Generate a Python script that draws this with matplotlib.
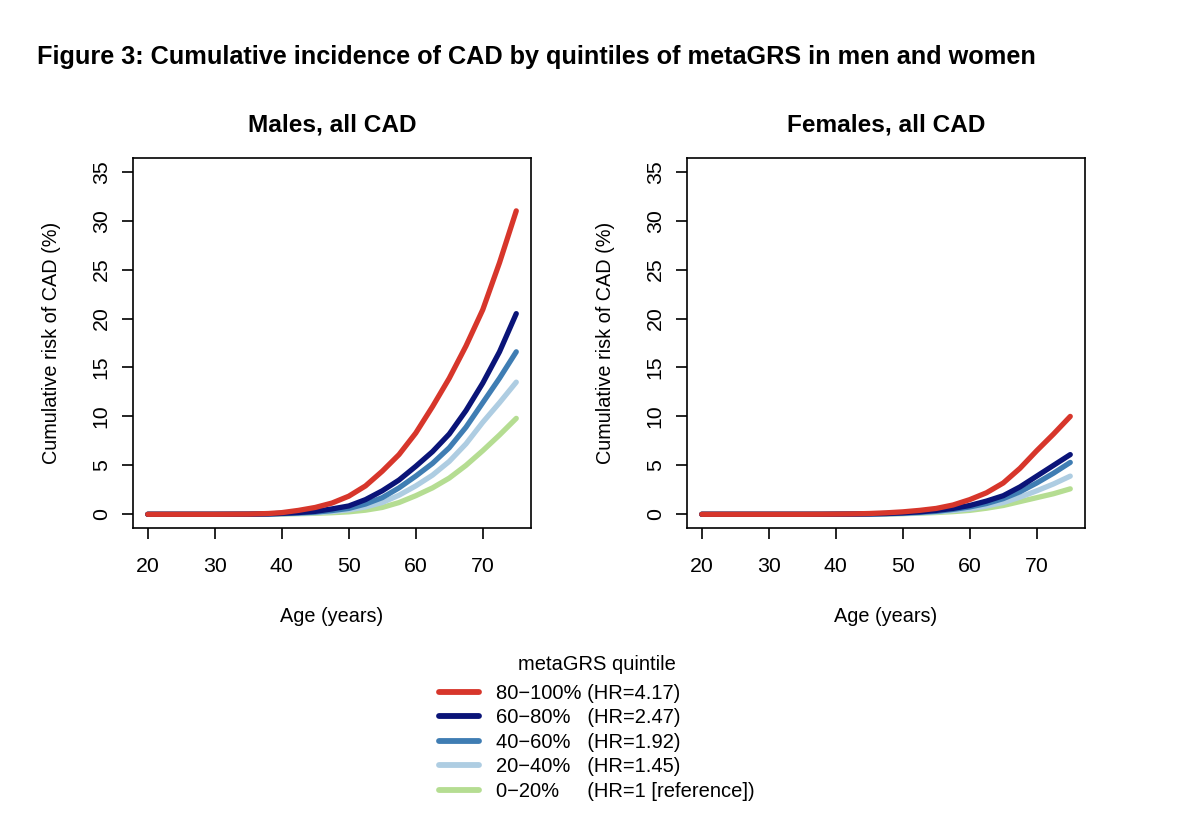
import matplotlib
matplotlib.use("Agg")
import matplotlib.pyplot as plt
from matplotlib.lines import Line2D

plt.rcParams['font.family'] = ['Liberation Sans', 'DejaVu Sans']

ages = [20, 30, 35, 38, 40, 42.5, 45, 47.5, 50, 52.5, 55, 57.5, 60, 62.5, 65, 67.5, 70, 72.5, 75]

# cumulative risk (%) by quintile, males
m_q5 = [0, 0, 0.02, 0.08, 0.17, 0.4, 0.7, 1.15, 1.85, 2.9, 4.4, 6.1, 8.3, 11.0, 13.9, 17.2, 20.9, 25.7, 31.0]
m_q4 = [0, 0, 0.01, 0.04, 0.1, 0.18, 0.3, 0.55, 0.85, 1.5, 2.4, 3.5, 4.9, 6.4, 8.2, 10.6, 13.4, 16.6, 20.5]
m_q3 = [0, 0, 0.01, 0.03, 0.07, 0.13, 0.22, 0.38, 0.6, 1.05, 1.7, 2.7, 3.9, 5.2, 6.8, 8.9, 11.4, 13.9, 16.6]
m_q2 = [0, 0, 0.0, 0.02, 0.05, 0.1, 0.16, 0.28, 0.45, 0.75, 1.2, 1.95, 2.9, 4.0, 5.4, 7.2, 9.4, 11.4, 13.5]
m_q1 = [0, 0, 0.0, 0.01, 0.03, 0.06, 0.1, 0.16, 0.25, 0.42, 0.7, 1.2, 1.9, 2.7, 3.7, 5.0, 6.5, 8.1, 9.8]

# cumulative risk (%) by quintile, females
f_q5 = [0, 0, 0.0, 0.01, 0.02, 0.04, 0.08, 0.15, 0.25, 0.4, 0.6, 0.95, 1.5, 2.2, 3.2, 4.7, 6.5, 8.2, 10.0]
f_q4 = [0, 0, 0.0, 0.0, 0.01, 0.02, 0.04, 0.08, 0.15, 0.25, 0.4, 0.6, 0.9, 1.35, 1.9, 2.8, 3.9, 5.0, 6.1]
f_q3 = [0, 0, 0.0, 0.0, 0.01, 0.02, 0.03, 0.06, 0.11, 0.19, 0.3, 0.5, 0.75, 1.1, 1.6, 2.3, 3.2, 4.2, 5.3]
f_q2 = [0, 0, 0.0, 0.0, 0.0, 0.01, 0.02, 0.04, 0.08, 0.15, 0.25, 0.38, 0.55, 0.85, 1.2, 1.75, 2.4, 3.1, 3.9]
f_q1 = [0, 0, 0.0, 0.0, 0.0, 0.01, 0.02, 0.03, 0.06, 0.11, 0.18, 0.27, 0.4, 0.62, 0.9, 1.3, 1.7, 2.1, 2.6]

quintiles = ["80\u2212100%", "60\u221280%", "40\u221260%", "20\u221240%", "0\u221220%"]
hr_labels = ["(HR=4.17)", "(HR=2.47)", "(HR=1.92)", "(HR=1.45)", "(HR=1 [reference])"]
pads = [" ", "   ", "   ", "   ", "     "]
colors = ["#D7362B", "#0A1478", "#3F7DB3", "#AECDE2", "#B5DD92"]

males = [m_q5, m_q4, m_q3, m_q2, m_q1]
females = [f_q5, f_q4, f_q3, f_q2, f_q1]

fig = plt.figure(figsize=(12, 8.39), dpi=100)

fig.text(37 / 1200, 1 - 57 / 839, "Figure 3: Cumulative incidence of CAD by quintiles of metaGRS in men and women",
         fontsize=18.2, fontweight='bold', ha='left', va='center')

panels = [(133, males, "Males, all CAD"), (687, females, "Females, all CAD")]
for left, series, title in panels:
    ax = fig.add_axes([left / 1200, 1 - 528 / 839, 398 / 1200, 370 / 839])
    # plot lowest quintile first so red ends up on top
    for vals, col in reversed(list(zip(series, colors))):
        ax.plot(ages, vals, color=col, lw=3.8, solid_capstyle='round')
    ax.set_xlim(17.8, 77.2)
    ax.set_ylim(-1.4, 36.4)
    ax.set_xticks([20, 30, 40, 50, 60, 70])
    ax.set_yticks([0, 5, 10, 15, 20, 25, 30, 35])
    ax.tick_params(axis='both', direction='out', length=8, width=1.2, labelsize=15.3)
    ax.tick_params(axis='x', pad=13)
    ax.tick_params(axis='y', pad=8)
    for lab in ax.get_yticklabels():
        lab.set_rotation(90)
        lab.set_va('center')
    for sp in ax.spines.values():
        sp.set_linewidth(1.2)
    ax.set_title(title, fontsize=17.6, fontweight='bold', pad=19)
    ax.set_xlabel("Age (years)", fontsize=14.3, labelpad=22)
    ax.set_ylabel("Cumulative risk of CAD (%)", fontsize=14.3, labelpad=22)

handles = [Line2D([0], [0], color=c, lw=4.2, solid_capstyle='round') for c in colors]
labels = [q + p + h for q, p, h in zip(quintiles, pads, hr_labels)]
leg = fig.legend(handles, labels, loc='upper left', bbox_to_anchor=(425 / 1200, 1 - 641 / 839),
                 frameon=False, fontsize=14.5, title="metaGRS quintile", title_fontsize=14.5,
                 handlelength=2.0, handletextpad=0.85, labelspacing=0.27, borderpad=0.2)
leg._legend_box.sep = 7

fig.savefig("out.png", dpi=100)
